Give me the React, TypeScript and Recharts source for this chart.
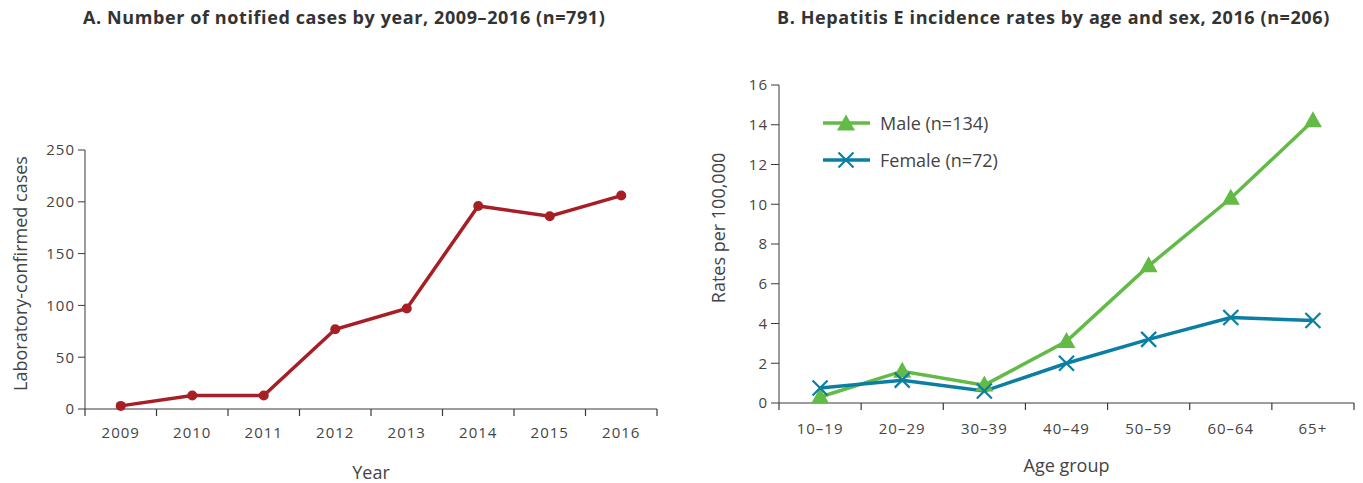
import React from "react";
import { LineChart, Line, XAxis, YAxis, Label, Legend } from "recharts";

// Panel A
const YEARS = ["2009", "2010", "2011", "2012", "2013", "2014", "2015", "2016"];
const CASES = [3, 13, 13, 77, 97, 196, 186, 206];
const CASE_TICKS = [0, 50, 100, 150, 200, 250];

// Panel B
const AGE_GROUPS = ["10–19", "20–29", "30–39", "40–49", "50–59", "60–64", "65+"];
const MALE_RATES = [0.3, 1.6, 0.9, 3.1, 6.9, 10.3, 14.2];
const FEMALE_RATES = [0.75, 1.15, 0.6, 2.0, 3.2, 4.3, 4.15];
const RATE_TICKS = [0, 2, 4, 6, 8, 10, 12, 14, 16];
const SERIES_ORDER = ["male", "female"];

const RED = "#a71e25";
const GREEN = "#62bb46";
const BLUE = "#0b7ea3";
const AXIS = "#3a3a3a";
const TEXT = "#444";
const FONT = "'Open Sans', sans-serif";

// categories sit in the middle of each band, tick marks on band edges
const bandTicks = (n: number) => {
  const t: number[] = [];
  for (let i = 0; i <= n; i++) {
    t.push(i);
    if (i < n) t.push(i + 0.5);
  }
  return t;
};

const casesData = YEARS.map((year, i) => ({ pos: i + 0.5, year, cases: CASES[i] }));
const rateData = AGE_GROUPS.map((age, i) => ({
  pos: i + 0.5,
  age,
  male: MALE_RATES[i],
  female: FEMALE_RATES[i],
}));

const BandTick = ({ x, y, payload, labels, dy }: any) => {
  const v = payload.value;
  if (Number.isInteger(v)) {
    return <line x1={x} x2={x} y1={y} y2={y + 7} stroke={AXIS} strokeWidth={1.2} />;
  }
  return (
    <text x={x} y={y + dy} textAnchor="middle" fill={TEXT} fontSize={15} letterSpacing={1} fontFamily={FONT}>
      {labels[Math.floor(v)]}
    </text>
  );
};

const Triangle = ({ cx, cy }: any) => (
  <polygon points={`${cx},${cy - 9.5} ${cx + 9},${cy + 6.5} ${cx - 9},${cy + 6.5}`} fill={GREEN} />
);

const Cross = ({ cx, cy }: any) => (
  <g stroke={BLUE} strokeWidth={2.2}>
    <line x1={cx - 7.5} y1={cy - 7.5} x2={cx + 7.5} y2={cy + 7.5} />
    <line x1={cx - 7.5} y1={cy + 7.5} x2={cx + 7.5} y2={cy - 7.5} />
  </g>
);

const RateLegend = ({ payload }: any) => {
  const items = [...(payload || [])].sort(
    (a: any, b: any) => SERIES_ORDER.indexOf(a.dataKey) - SERIES_ORDER.indexOf(b.dataKey)
  );
  return (
    <div>
      {items.map((entry: any) => (
        <div key={entry.value} style={{ display: "flex", alignItems: "center", height: 37 }}>
          <svg width={50} height={20}>
            <line x1={1} x2={48} y1={10} y2={10} stroke={entry.color} strokeWidth={3.5} />
            {entry.dataKey === "male" ? <Triangle cx={24} cy={11} /> : <Cross cx={24} cy={10} />}
          </svg>
          <span style={{ marginLeft: 8, fontSize: 18, color: TEXT, fontFamily: FONT }}>{entry.value}</span>
        </div>
      ))}
    </div>
  );
};

const yTitle = (text: string, dx: number, dy: number) => (props: any) => {
  const vb = props.viewBox || { x: 0, y: 0, width: 0, height: 0 };
  const x = vb.x + dx;
  const y = vb.y + vb.height / 2 + dy;
  return (
    <text
      x={x}
      y={y}
      transform={`rotate(-90, ${x}, ${y})`}
      textAnchor="middle"
      dominantBaseline="central"
      fill={TEXT}
      fontSize={18}
      fontFamily={FONT}
    >
      {text}
    </text>
  );
};

const xTitle = (text: string, dy: number) => (props: any) => {
  const vb = props.viewBox || { x: 0, y: 0, width: 0, height: 0 };
  return (
    <text x={vb.x + vb.width / 2} y={vb.y + dy} textAnchor="middle" fill={TEXT} fontSize={18} fontFamily={FONT}>
      {text}
    </text>
  );
};

const titleStyle: React.CSSProperties = {
  position: "absolute",
  top: 5,
  fontFamily: FONT,
  fontWeight: 700,
  fontSize: 18,
  letterSpacing: 0.6,
  color: "#333",
  whiteSpace: "nowrap",
};

export default function App() {
  return (
    <div style={{ position: "absolute", left: 0, top: 0, width: 1363, height: 483, background: "#fff", fontFamily: FONT }}>
      <div style={{ ...titleStyle, left: 83 }}>A. Number of notified cases by year, 2009–2016 (n=791)</div>
      <div style={{ ...titleStyle, left: 777 }}>B. Hepatitis E incidence rates by age and sex, 2016 (n=206)</div>

      {/* A: cases per year */}
      <div style={{ position: "absolute", left: 0, top: 0 }}>
        <LineChart width={680} height={483} data={casesData} margin={{ top: 150, right: 23, bottom: 14, left: 0 }}>
          <XAxis
            dataKey="pos"
            type="number"
            domain={[0, YEARS.length]}
            ticks={bandTicks(YEARS.length)}
            interval={0}
            height={60}
            tickSize={0}
            tickMargin={0}
            tickLine={false}
            stroke={AXIS}
            tick={<BandTick labels={YEARS} dy={29} />}
          >
            <Label content={xTitle("Year", 70)} />
          </XAxis>
          <YAxis
            type="number"
            domain={[0, 250]}
            ticks={CASE_TICKS}
            width={85}
            tickSize={7}
            tickMargin={3}
            stroke={AXIS}
            tick={{ fill: TEXT, fontSize: 15, letterSpacing: 1, fontFamily: FONT }}
          >
            <Label content={yTitle("Laboratory-confirmed cases", 20, -6)} />
          </YAxis>
          <Line
            dataKey="cases"
            stroke={RED}
            strokeWidth={3.5}
            dot={{ r: 5, fill: RED, stroke: RED, strokeWidth: 0 }}
            activeDot={false}
            isAnimationActive={false}
          />
        </LineChart>
      </div>

      {/* B: rates by age and sex */}
      <div style={{ position: "absolute", left: 690, top: 0 }}>
        <LineChart width={673} height={483} data={rateData} margin={{ top: 85, right: 9, bottom: 14, left: 0 }}>
          <XAxis
            dataKey="pos"
            type="number"
            domain={[0, AGE_GROUPS.length]}
            ticks={bandTicks(AGE_GROUPS.length)}
            interval={0}
            height={66}
            tickSize={0}
            tickMargin={0}
            tickLine={false}
            stroke={AXIS}
            tick={<BandTick labels={AGE_GROUPS} dy={31} />}
          >
            <Label content={xTitle("Age group", 69)} />
          </XAxis>
          <YAxis
            type="number"
            domain={[0, 16]}
            ticks={RATE_TICKS}
            width={89}
            tickSize={8}
            tickMargin={3}
            stroke={AXIS}
            tick={{ fill: TEXT, fontSize: 15, letterSpacing: 1, fontFamily: FONT }}
          >
            <Label content={yTitle("Rates per 100,000", 28, -16)} />
          </YAxis>
          <Legend
            layout="vertical"
            align="center"
            verticalAlign="middle"
            wrapperStyle={{ left: 132, top: 104, width: "auto" }}
            content={<RateLegend />}
          />
          <Line
            dataKey="male"
            name="Male (n=134)"
            stroke={GREEN}
            strokeWidth={3.5}
            dot={(p: any) => <Triangle key={`m${p.index}`} cx={p.cx} cy={p.cy} />}
            activeDot={false}
            isAnimationActive={false}
          />
          <Line
            dataKey="female"
            name="Female (n=72)"
            stroke={BLUE}
            strokeWidth={3.5}
            dot={(p: any) => <Cross key={`f${p.index}`} cx={p.cx} cy={p.cy} />}
            activeDot={false}
            isAnimationActive={false}
          />
        </LineChart>
      </div>
    </div>
  );
}
